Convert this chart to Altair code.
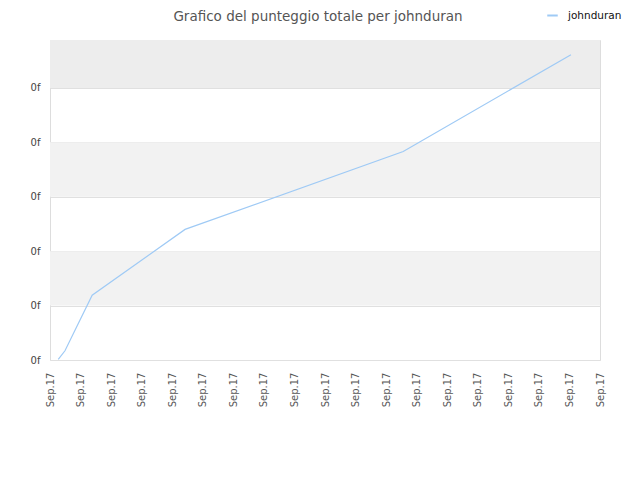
import altair as alt
import pandas as pd

# Data (x in tick units, y in grid units)
x_vals = [0.27, 0.49, 1.38, 4.42, 11.56, 17.05]
y_vals = [0.01, 0.17, 1.19, 2.40, 3.83, 5.61]
series = ["johnduran"] * len(x_vals)
x_ticks = list(range(0, 19))
y_ticks = [0, 1, 2, 3, 4, 5]
band_lo = [1, 3, 5]
band_hi = [2, 4, 5.88]
band_col = ["#f2f2f2", "#f2f2f2", "#ededed"]
title_text = ["Grafico del punteggio totale per johnduran"]

line_df = pd.DataFrame({"x": x_vals, "y": y_vals, "player": series})
band_df = pd.DataFrame({"lo": band_lo, "hi": band_hi, "c": band_col})
title_df = pd.DataFrame({"t": title_text})

X_DOM = [0, 18]
Y_DOM = [0, 5.88]

bands = alt.Chart(band_df).mark_rect().encode(
    x=alt.value(0),
    x2=alt.value(550),
    y=alt.Y("lo:Q", scale=alt.Scale(domain=Y_DOM, nice=False, zero=False)),
    y2="hi:Q",
    color=alt.Color("c:N", scale=None),
)

title = alt.Chart(title_df).mark_text(
    font="DejaVu Sans",
    fontSize=13.5,
    color="#555555",
    align="center",
    baseline="alphabetic",
).encode(
    text="t:N",
    x=alt.value(268),
    y=alt.value(-19.3),
)

line = alt.Chart(line_df).mark_line(strokeWidth=1.2).encode(
    x=alt.X(
        "x:Q",
        scale=alt.Scale(domain=X_DOM, nice=False, zero=False),
        axis=alt.Axis(
            values=x_ticks,
            labelExpr="'Sep.17'",
            labelAngle=270,
            labelAlign="right",
            labelBaseline="middle",
            labelPadding=12,
            ticks=False,
            domain=False,
            grid=False,
            title=None,
            labelFont="DejaVu Sans",
            labelFontSize=10,
            labelColor="#555555",
        ),
    ),
    y=alt.Y(
        "y:Q",
        scale=alt.Scale(domain=Y_DOM, nice=False, zero=False),
        axis=alt.Axis(
            values=y_ticks,
            labelExpr="'0f'",
            ticks=False,
            domain=False,
            grid=True,
            gridColor="#e0e0e0",
            labelPadding=10,
            title=None,
            labelFont="DejaVu Sans",
            labelFontSize=10,
            labelColor="#444444",
        ),
    ),
    color=alt.Color(
        "player:N",
        scale=alt.Scale(range=["#9fcaf5"]),
        legend=alt.Legend(
            title=None,
            orient="none",
            legendX=496,
            legendY=-31,
            symbolType="stroke",
            symbolStrokeWidth=2,
            symbolSize=110,
            labelOffset=9,
            labelFont="DejaVu Sans",
            labelFontSize=10.5,
            labelColor="#111111",
        ),
    ),
)

chart = (
    alt.layer(bands, line, title)
    .properties(
        width=550,
        height=320,
        autosize=alt.AutoSizeParams(type="none"),
        padding={"left": 42, "top": 32, "right": 32, "bottom": 112},
    )
    .configure_view(stroke="#dddddd", strokeWidth=1)
)

chart.save("out.html", embed_options={"renderer": "svg", "actions": False})
